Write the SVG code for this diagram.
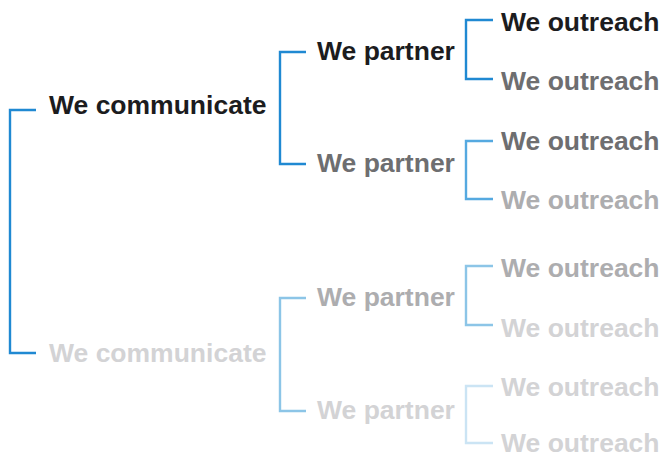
<svg xmlns="http://www.w3.org/2000/svg" width="662" height="458" viewBox="0 0 662 458">
<style>
text{font-family:"Liberation Sans",Arial,Helvetica,sans-serif;font-weight:bold;font-size:26.5px}
.t1{fill:#1c1c1e}.t2{fill:#6e6e70}.t3{fill:#adadaf}.t4{fill:#d3d3d5}
.br{fill:none;stroke-width:2.4}
.b1{stroke:#2089d2}.b2{stroke:#55a9e0}.b3{stroke:#8cc5e7}.b4{stroke:#cbe4f4}
</style>
<rect width="662" height="458" fill="#ffffff"/>
<g id="connectors">
<path class="br b1" d="M36 110H10V353H36"/>
<path class="br b1" d="M306 52H280V164H306"/>
<path class="br b3" d="M306 298H280V411H306"/>
<path class="br b1" d="M493 20H466V79H493"/>
<path class="br b2" d="M493 141H466V199H493"/>
<path class="br b3" d="M493 266H466V325H493"/>
<path class="br b4" d="M493 386H466V443H493"/>
</g>
<g id="communicate1"><text class="t1" x="49" y="114">We communicate</text></g>
<g id="communicate2"><text class="t4" x="49" y="362">We communicate</text></g>
<g id="partner1"><text class="t1" x="317" y="60">We partner</text></g>
<g id="partner2"><text class="t2" x="317" y="172">We partner</text></g>
<g id="partner3"><text class="t3" x="317" y="306">We partner</text></g>
<g id="partner4"><text class="t4" x="317" y="419">We partner</text></g>
<g id="outreach1"><text class="t1" x="501" y="31">We outreach</text></g>
<g id="outreach2"><text class="t2" x="501" y="90">We outreach</text></g>
<g id="outreach3"><text class="t2" x="501" y="150">We outreach</text></g>
<g id="outreach4"><text class="t3" x="501" y="209">We outreach</text></g>
<g id="outreach5"><text class="t3" x="501" y="277">We outreach</text></g>
<g id="outreach6"><text class="t4" x="501" y="337">We outreach</text></g>
<g id="outreach7"><text class="t4" x="501" y="396">We outreach</text></g>
<g id="outreach8"><text class="t4" x="501" y="452">We outreach</text></g>
</svg>
